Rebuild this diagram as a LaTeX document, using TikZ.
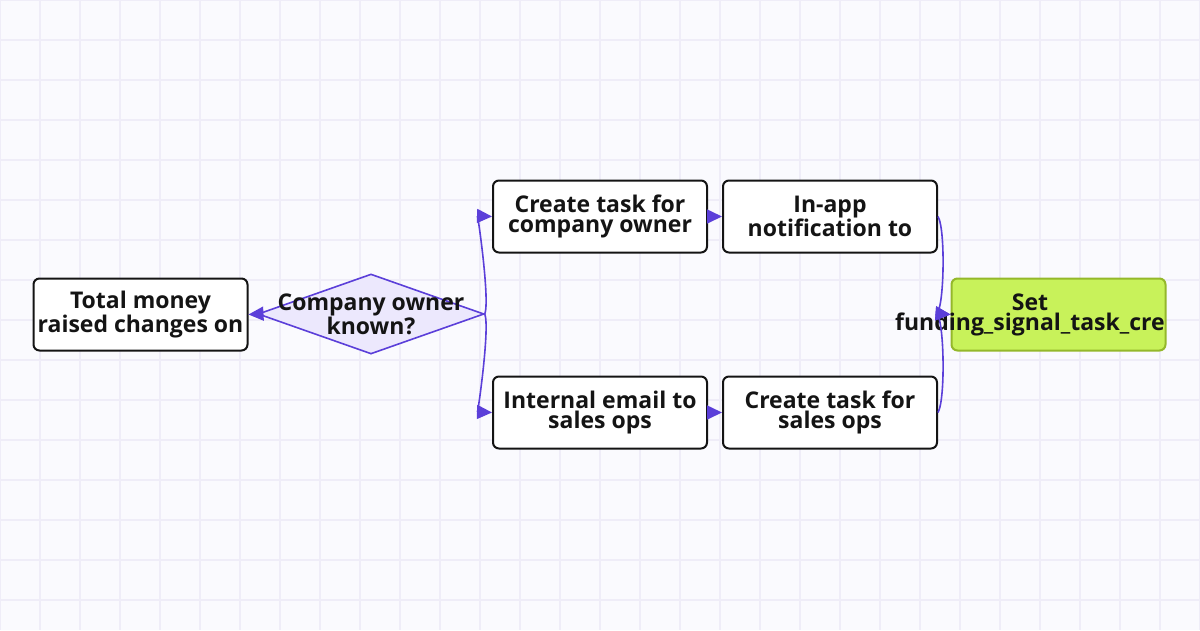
\documentclass[tikz,border=0pt]{standalone}
\usepackage{fontspec}
\setmainfont{Open Sans}
\usetikzlibrary{arrows.meta,shapes.geometric}
\definecolor{bg}{HTML}{FAFAFE}
\definecolor{gridc}{HTML}{EFEDF8}
\definecolor{edge}{HTML}{5B3FD9}
\definecolor{dfill}{HTML}{ECE8FD}
\definecolor{gfill}{HTML}{C8F25A}
\definecolor{gline}{HTML}{94B82A}
\definecolor{ink}{HTML}{141414}
\begin{document}
\begin{tikzpicture}[x=1pt,y=-1pt,
  txt/.style={font=\bfseries\fontsize{23}{20}\selectfont,text=ink,align=center},
  box/.style={txt,draw=ink,line width=2pt,fill=white,rounded corners=6pt,minimum width=214pt,minimum height=72pt,inner sep=0pt},
  con/.style={draw=edge,line width=1.6pt,-{Triangle[length=15pt,width=14pt]}}]
\useasboundingbox (0,0) rectangle (1200,630);
\fill[bg] (0,0) rectangle (1200,630);
\foreach \x in {0,40,...,1200} \draw[gridc,line width=1.2pt] (\x,0) -- (\x,630);
\foreach \y in {0,40,...,600} \draw[gridc,line width=1.2pt] (0,\y) -- (1200,\y);

\node[box] (A) at (140.5,314.5) {Total money\\raised changes on};
\node[diamond,draw=edge,fill=dfill,line width=1.6pt,minimum width=226pt,minimum height=80pt,aspect=2.8,inner sep=0pt] (D) at (371,314) {};
\node[txt] (Dt) at (D) {Company owner\\known?};
\node[box] (B1) at (600,216.5) {Create task for\\company owner};
\node[box] (B2) at (830,216.5) {In-app\\notification to};
\node[box] (C1) at (600,412.5) {Internal email to\\sales ops};
\node[box] (C2) at (830,412.5) {Create task for\\sales ops};
\node[box,draw=gline,fill=gfill] (F) at (1058.5,314.5) {};
\begin{scope}
\clip (870,270) rectangle (1166,360);
\node[txt] (Ft) at (1030,314.5) {Set\\funding\_signal\_task\_cre};
\end{scope}

\draw[con] (D.west) -- (A.east);
\draw[con] (D.east) .. controls (490,300) and (478,216) .. (B1.west);
\draw[con] (D.east) .. controls (490,328) and (478,412) .. (C1.west);
\draw[con] (B1.east) -- (B2.west);
\draw[con] (C1.east) -- (C2.west);
\draw[con] (B2.east) .. controls (946,230) and (944,314) .. (F.west);
\draw[con] (C2.east) .. controls (946,398) and (944,314) .. (F.west);
\end{tikzpicture}
\end{document}
